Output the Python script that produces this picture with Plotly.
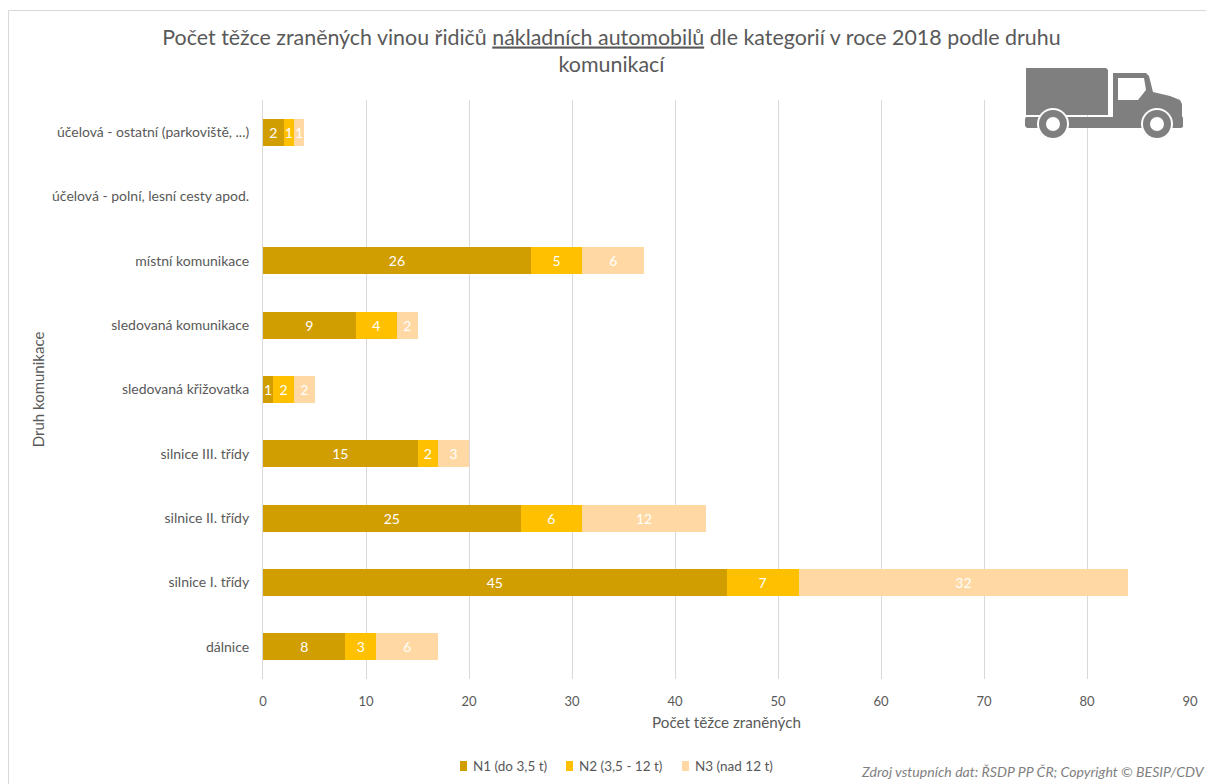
import plotly.graph_objects as go

W, H = 1206, 784
M_L, M_R, M_T, M_B = 263, 16, 100, 105
FONT = "Lato"
GREY = "#595959"

categories = ["dálnice", "silnice I. třídy", "silnice II. třídy", "silnice III. třídy",
              "sledovaná křižovatka", "sledovaná komunikace", "místní komunikace",
              "účelová - polní, lesní cesty apod.", "účelová - ostatní (parkoviště, ...)"]
n1 = [8, 45, 25, 15, 1, 9, 26, 0, 2]
n2 = [3, 7, 6, 2, 2, 4, 5, 0, 1]
n3 = [6, 32, 12, 3, 2, 2, 6, 0, 1]
series_names = ["N1 (do 3,5 t)", "N2 (3,5 - 12 t)", "N3 (nad 12 t)"]
series_colors = ["#D09E00", "#FFC000", "#FFD8A3"]
legend_left = [460, 566, 682]


# page pixels to plot-area fractions, for decorations placed outside the axes
def px(x):
    return (x - M_L) / (W - M_L - M_R)


def py(y):
    return (H - M_B - y) / (H - M_T - M_B)


def path(points):
    return "M" + " L".join(f"{px(x):.5f},{py(y):.5f}" for x, y in points) + " Z"


def disc(cx, cy, r, fill):
    return dict(type="circle", xref="paper", yref="paper", layer="above",
                x0=px(cx - r), x1=px(cx + r), y0=py(cy + r), y1=py(cy - r),
                fillcolor=fill, line_width=0)


def solid(points, fill):
    return dict(type="path", xref="paper", yref="paper", layer="above",
                path=path(points), fillcolor=fill, line_width=0)


ICON = "#7F7F7F"
truck = [
    # cargo box
    solid([(1026, 68), (1106, 68), (1108, 70), (1108, 115), (1026, 115)], ICON),
    # chassis and cab
    solid([(1026, 117), (1113, 117), (1113, 73), (1146, 73), (1149, 76), (1153, 92),
           (1170, 96), (1180, 100), (1182, 104), (1182, 116), (1183, 118), (1183, 127),
           (1181, 128), (1027, 128), (1025, 126), (1025, 119)], ICON),
    # cab window
    solid([(1118, 78), (1144, 78), (1146, 90), (1138, 100), (1118, 100)], "white"),
    # wheels
    disc(1053, 124, 16, "white"), disc(1053, 124, 14, ICON), disc(1053, 124, 7, "white"),
    disc(1157, 124, 16, "white"), disc(1157, 124, 14, ICON), disc(1157, 124, 7, "white"),
]

# outer frame of the chart area, open towards the right and bottom
frame = [
    dict(type="line", xref="paper", yref="paper", x0=px(8.5), x1=px(W), y0=py(10.5), y1=py(10.5),
         line=dict(color="#D9D9D9", width=1)),
    dict(type="line", xref="paper", yref="paper", x0=px(8.5), x1=px(8.5), y0=py(10.5), y1=py(H),
         line=dict(color="#D9D9D9", width=1)),
]

# compact legend row: narrow swatches followed by their labels
legend_swatches = [
    dict(type="rect", xref="paper", yref="paper", x0=px(x), x1=px(x + 7), y0=py(771), y1=py(761),
         fillcolor=color, line_width=0)
    for x, color in zip(legend_left, series_colors)
]
legend_labels = [
    dict(text=name, xref="paper", yref="paper", x=px(x + 11), y=py(766), xanchor="left",
         yanchor="middle", showarrow=False, font=dict(family=FONT, size=13.5, color=GREY))
    for x, name in zip(legend_left, series_names)
]

fig = go.Figure()
for values, name, color in zip((n1, n2, n3), series_names, series_colors):
    fig.add_bar(
        y=categories, x=values, name=name, orientation="h",
        marker=dict(color=color, line_width=0),
        text=[str(v) if v else "" for v in values],
        textposition="inside", insidetextanchor="middle", textangle=0,
        constraintext="none",
        textfont=dict(family=FONT, size=14, color="white"),
        hoverinfo="x+y+name",
    )

fig.update_layout(
    width=W, height=H, autosize=False,
    margin=dict(l=M_L, r=M_R, t=M_T, b=M_B, pad=0, autoexpand=False),
    barmode="stack", bargap=0.58, showlegend=False,
    paper_bgcolor="white", plot_bgcolor="white",
    font=dict(family=FONT, size=14, color=GREY),
    title=dict(
        text="Počet těžce zraněných vinou řidičů <u>nákladních automobilů</u> dle kategorií v roce 2018 podle druhu<br>komunikací",
        font=dict(family=FONT, size=21.4, color=GREY),
        x=611.5 / W, xanchor="center", y=1 - 44.5 / H, yanchor="top",
    ),
    xaxis=dict(
        range=[0, 90], dtick=10, tick0=0, showgrid=True, gridcolor="#D9D9D9", gridwidth=1,
        zeroline=False, showline=False, ticks="", ticklabelstandoff=13,
        tickfont=dict(family=FONT, size=13, color=GREY),
        title=dict(text="Počet těžce zraněných", standoff=9,
                   font=dict(family=FONT, size=15.2, color=GREY)),
    ),
    yaxis=dict(
        categoryorder="array", categoryarray=categories,
        showgrid=False, zeroline=False, showline=True, linecolor="#D9D9D9", linewidth=1,
        ticks="", ticklabelstandoff=10,
        tickfont=dict(family=FONT, size=14, color=GREY),
        title=dict(text="Druh komunikace", standoff=3,
                   font=dict(family=FONT, size=15, color=GREY)),
    ),
    annotations=legend_labels + [dict(
        text="<i>Zdroj vstupních dat: ŘSDP PP ČR; Copyright © BESIP/CDV</i>",
        xref="paper", yref="paper", x=px(1207), y=py(771), xanchor="right", yanchor="middle",
        showarrow=False, font=dict(family=FONT, size=14.1, color="#7F7F7F"),
    )],
    shapes=frame + legend_swatches + truck,
)

fig.write_html("out.html", config={"displayModeBar": False})
